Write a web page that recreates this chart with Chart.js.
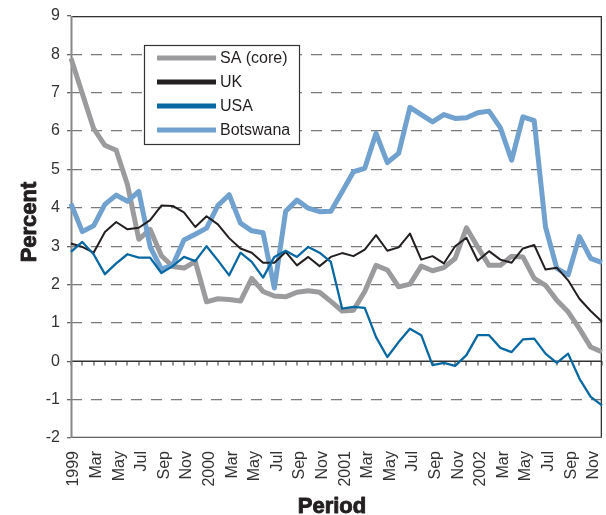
<!DOCTYPE html>
<html>
<head>
<meta charset="utf-8">
<script src="https://cdn.jsdelivr.net/npm/chart.js@4/dist/chart.umd.min.js"></script>
<style>
  html, body { margin: 0; padding: 0; background: #ffffff; }
  canvas { display: block; }
</style>
</head>
<body>
<canvas id="c" width="606" height="515"></canvas>
<script>
// Monthly periods, Jan 1999 - Dec 2002
const periods = [
  '1999','Feb','Mar','Apr','May','Jun','Jul','Aug','Sep','Oct','Nov','Dec',
  '2000','Feb','Mar','Apr','May','Jun','Jul','Aug','Sep','Oct','Nov','Dec',
  '2001','Feb','Mar','Apr','May','Jun','Jul','Aug','Sep','Oct','Nov','Dec',
  '2002','Feb','Mar','Apr','May','Jun','Jul','Aug','Sep','Oct','Nov','Dec'
];

// Axis labels shown every second month
const tickLabels = [
  '1999','Mar','May','Jul','Sep','Nov',
  '2000','Mar','May','Jul','Sep','Nov',
  '2001','Mar','May','Jul','Sep','Nov',
  '2002','Mar','May','Jul','Sep','Nov'
];

// Inflation rates, percent
const saCore = [
  7.90, 6.98, 6.07, 5.63, 5.50, 4.60, 3.18, 3.44, 2.75, 2.47, 2.43, 2.60,
  1.55, 1.63, 1.61, 1.57, 2.16, 1.82, 1.70, 1.68, 1.80, 1.84, 1.80, 1.56,
  1.31, 1.33, 1.82, 2.50, 2.38, 1.94, 2.01, 2.48, 2.36, 2.44, 2.68, 3.48,
  2.98, 2.50, 2.50, 2.74, 2.72, 2.16, 1.98, 1.59, 1.29, 0.85, 0.37, 0.24
];
const uk = [
  3.07, 2.98, 2.83, 3.37, 3.63, 3.44, 3.48, 3.68, 4.06, 4.05, 3.88, 3.50,
  3.78, 3.57, 3.21, 2.94, 2.83, 2.57, 2.57, 2.85, 2.50, 2.72, 2.48, 2.72,
  2.82, 2.74, 2.91, 3.29, 2.88, 2.97, 3.33, 2.65, 2.74, 2.55, 3.00, 3.22,
  2.62, 2.87, 2.65, 2.57, 2.94, 3.03, 2.39, 2.44, 2.11, 1.63, 1.31, 1.03
];
const usa = [
  2.85, 3.11, 2.79, 2.27, 2.55, 2.79, 2.70, 2.70, 2.30, 2.48, 2.72, 2.61,
  3.00, 2.63, 2.24, 2.83, 2.59, 2.18, 2.72, 2.88, 2.72, 2.98, 2.83, 2.59,
  1.37, 1.42, 1.39, 0.63, 0.11, 0.50, 0.85, 0.68, -0.10, -0.04, -0.12, 0.16,
  0.68, 0.68, 0.35, 0.24, 0.57, 0.59, 0.20, -0.04, 0.20, -0.45, -0.93, -1.15
];
const botswana = [
  4.11, 3.38, 3.53, 4.09, 4.33, 4.17, 4.43, 2.99, 2.40, 2.50, 3.16, 3.31,
  3.47, 4.06, 4.34, 3.60, 3.40, 3.35, 1.91, 3.91, 4.20, 3.99, 3.90, 3.91,
  4.42, 4.94, 5.03, 5.94, 5.18, 5.42, 6.62, 6.43, 6.24, 6.43, 6.33, 6.35,
  6.48, 6.52, 6.09, 5.24, 6.37, 6.27, 3.50, 2.42, 2.25, 3.25, 2.68, 2.57
];

const FONT = "'Liberation Sans', Arial, Helvetica, sans-serif";

// Plot frame, zero axis with monthly tick marks
const framePlugin = {
  id: 'frame',
  beforeDatasetsDraw(chart) {
    const { ctx, chartArea: a, scales: { x, y } } = chart;
    const w = a.right - a.left, h = a.bottom - a.top;
    ctx.save();
    // zero line
    const y0 = Math.round(y.getPixelForValue(0));
    ctx.fillStyle = '#333333';
    ctx.fillRect(a.left, y0 - 0.5, w, 1.5);
    for (let i = 0; i < periods.length; i++) {
      const px = Math.round(x.getPixelForValue(i));
      ctx.fillRect(px - 0.5, y0, 1, 4.5);
    }
    // frame: top and right
    ctx.fillStyle = '#333333';
    ctx.fillRect(a.left, a.top, w, 1.3);
    ctx.fillRect(a.right - 1.3, a.top, 1.3, h);
    // bottom
    ctx.fillStyle = '#666666';
    ctx.fillRect(a.left, a.bottom - 1.3, w, 1.3);
    // left axis
    ctx.fillStyle = '#878787';
    ctx.fillRect(a.left - 0.5, a.top, 2, h);
    ctx.restore();
  }
};

// Axis titles, heavy weight
const titlePlugin = {
  id: 'axisTitles',
  afterDraw(chart) {
    const { ctx } = chart;
    ctx.save();
    ctx.fillStyle = '#231f20';
    ctx.strokeStyle = '#231f20';
    ctx.lineWidth = 0.9;
    ctx.lineJoin = 'round';
    ctx.font = 'bold 22px ' + FONT;
    ctx.textAlign = 'center';
    ctx.textBaseline = 'middle';
    ctx.fillText('Period', 332, 507);
    ctx.strokeText('Period', 332, 507);
    ctx.translate(30, 222);
    ctx.rotate(-Math.PI / 2);
    ctx.fillText('Percent', 0, 0);
    ctx.strokeText('Percent', 0, 0);
    ctx.restore();
  }
};

// Boxed legend inside the plot
const legendPlugin = {
  id: 'boxLegend',
  afterDatasetsDraw(chart) {
    const { ctx } = chart;
    const bx = 144, by = 45, bw = 155, bh = 99;
    ctx.save();
    ctx.fillStyle = '#ffffff';
    ctx.fillRect(bx, by, bw, bh);
    ctx.strokeStyle = '#333333';
    ctx.lineWidth = 1.2;
    ctx.strokeRect(bx + 0.5, by + 0.5, bw, bh);
    ctx.font = '16px ' + FONT;
    ctx.textBaseline = 'middle';
    chart.data.datasets.forEach((ds, r) => {
      const ry = 58 + r * 24;
      ctx.strokeStyle = ds.borderColor;
      ctx.lineWidth = 5;
      ctx.beginPath();
      ctx.moveTo(157, ry);
      ctx.lineTo(216, ry);
      ctx.stroke();
      ctx.fillStyle = '#231f20';
      ctx.fillText(ds.label, 220, ry + 1);
    });
    ctx.restore();
  }
};

new Chart(document.getElementById('c'), {
  type: 'line',
  data: {
    labels: periods,
    datasets: [
      { label: 'SA (core)', data: saCore, borderColor: '#9b9b9e', borderWidth: 5, order: 4 },
      { label: 'UK', data: uk, borderColor: '#231f20', borderWidth: 2, order: 2 },
      { label: 'USA', data: usa, borderColor: '#0868a2', borderWidth: 2.3, order: 1 },
      { label: 'Botswana', data: botswana, borderColor: '#70a1cf', borderWidth: 5, order: 3 }
    ]
  },
  options: {
    responsive: false,
    animation: false,
    devicePixelRatio: 1,
    layout: { padding: { top: 16, right: 4, left: 0, bottom: 0 } },
    elements: {
      point: { radius: 0, hoverRadius: 0 },
      line: { tension: 0, borderJoinStyle: 'round', borderCapStyle: 'butt', fill: false }
    },
    plugins: {
      legend: { display: false },
      tooltip: { enabled: false }
    },
    scales: {
      x: {
        type: 'category',
        offset: false,
        grid: { display: false, drawTicks: false },
        border: { display: false },
        ticks: {
          autoSkip: false,
          maxRotation: 90,
          minRotation: 90,
          padding: 13,
          labelOffset: 3,
          color: '#333333',
          font: { family: FONT, size: 16 },
          callback: (v, i) => (i % 2 === 0 ? tickLabels[i / 2] : '')
        },
        title: { display: false },
        afterFit(s) {
          s.height = 77;
          s.paddingLeft = 0;
          s.paddingRight = 0;
        }
      },
      y: {
        min: -2,
        max: 9,
        ticks: {
          stepSize: 1,
          padding: 7,
          color: '#333333',
          font: { family: FONT, size: 16 }
        },
        grid: {
          color: (c) => {
            const v = c.tick ? c.tick.value : null;
            return (v === 0 || v === 9 || v === -2) ? 'rgba(0,0,0,0)' : '#7a7a7a';
          },
          lineWidth: 1.3,
          tickColor: '#666666',
          tickLength: 4,
          tickBorderDash: []
        },
        border: { display: false, dash: [11, 9] },
        title: { display: false },
        afterFit(s) {
          s.width = 71;
          s.paddingTop = 0;
          s.paddingBottom = 0;
        }
      }
    }
  },
  plugins: [framePlugin, legendPlugin, titlePlugin]
});
</script>
</body>
</html>
